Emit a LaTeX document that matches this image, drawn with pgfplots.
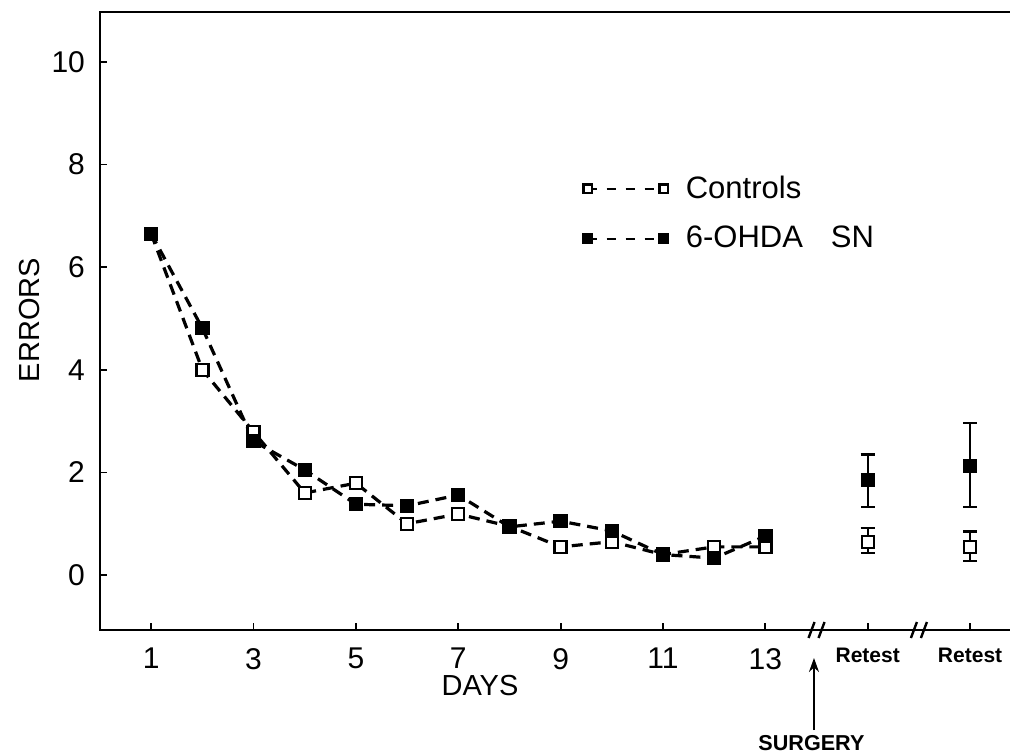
\documentclass[border=0pt]{standalone}
\usepackage{pgfplots}
\pgfplotsset{compat=1.18}
\usepackage{fontspec}
\setmainfont{Liberation Sans}
\usetikzlibrary{arrows.meta}

\begin{document}
\begin{tikzpicture}
\useasboundingbox (-50pt,-62.5pt) rectangle (455pt,315pt);
\begin{axis}[
    at={(0,0)}, anchor=south west,
    scale only axis, width=455pt, height=309pt,
    xmin=0, xmax=17.78, ymin=-1.07, ymax=10.97,
    clip=false,
    axis line style={draw=none},
    xtick={1,3,5,7,9,11,13,15,17},
    xticklabels={1,3,5,7,9,11,13,
      {\fontsize{10.5}{12}\selectfont\bfseries Retest},
      {\fontsize{10.5}{12}\selectfont\bfseries Retest}},
    ytick={0,2,4,6,8,10},
    xtick pos=bottom, ytick pos=left,
    tick align=inside,
    major tick length=3.5pt,
    every tick/.style={black, line width=0.9pt},
    tick label style={font=\fontsize{15}{18}\selectfont},
    xticklabel style={yshift=-5.5pt},
    yticklabel style={xshift=-4pt},
    /pgf/number format/assume math mode=true,
    xlabel={DAYS},
    xlabel style={at={(axis description cs:0.4176,0)}, anchor=center, yshift=-28pt, font=\fontsize{14.5}{17}\selectfont},
    ylabel={ERRORS},
    ylabel style={at={(axis description cs:0,0.5016)}, anchor=center, yshift=35pt, font=\fontsize{14.5}{17}\selectfont},
    legend style={draw=none, fill=none, at={(axis description cs:0.5308,0.742)}, anchor=north west,
      inner sep=0pt, row sep=8.5pt, font=\fontsize{15.5}{18}\selectfont,
      /tikz/every odd column/.append style={column sep=7pt}},
    legend cell align=left,
    legend image code/.code={\draw[#1, mark repeat=1] plot coordinates {(0pt,0pt) (38pt,0pt)};},
    legend image post style={mark size=2.1pt, dash pattern=on 4.5pt off 5pt, line width=1pt},
]
\addplot[black, line width=1.6pt, dash pattern=on 5.5pt off 3.5pt,
    mark=square*, mark size=3pt, mark options={solid, line width=1.2pt, fill=white}] coordinates {
(1,6.65)(2,4.0)(3,2.79)(4,1.6)(5,1.79)(6,1.0)(7,1.19)(8,0.95)(9,0.55)(10,0.65)(11,0.4)(12,0.55)(13,0.55)};
\addlegendentry{Controls}
\addplot[black, line width=1.6pt, dash pattern=on 5.5pt off 3.5pt,
    mark=square*, mark size=3pt, mark options={solid, line width=1.2pt, fill=black}] coordinates {
(1,6.65)(2,4.81)(3,2.61)(4,2.05)(5,1.38)(6,1.35)(7,1.56)(8,0.94)(9,1.05)(10,0.86)(11,0.4)(12,0.33)(13,0.76)};
\addlegendentry{6-OHDA\hspace{0.9em}SN}

\addplot[black, only marks, mark=square*, mark size=3pt, mark options={solid, line width=1.2pt, fill=white}, forget plot,
    error bars/.cd, y dir=both, y explicit,
    error bar style={line width=1pt}, error mark options={rotate=90, mark size=3.5pt, line width=1.2pt}]
coordinates {
(15,0.65) += (0,0.27) -= (0,0.22)
(17,0.55) += (0,0.30) -= (0,0.28)};
\addplot[black, only marks, mark=square*, mark size=3pt, mark options={solid, line width=1.2pt, fill=black}, forget plot,
    error bars/.cd, y dir=both, y explicit,
    error bar style={line width=1pt}, error mark options={rotate=90, mark size=3.5pt, line width=1.2pt}]
coordinates {
(15,1.85) += (0,0.50) -= (0,0.52)
(17,2.12) += (0,0.84) -= (0,0.79)};

% frame: left, top, bottom (right edge is cut off)
\draw[line width=1.4pt] (rel axis cs:1,1) -- (rel axis cs:0,1) -- (rel axis cs:0,0) -- (rel axis cs:1,0);

% axis breaks
\draw[line width=1.2pt] ([xshift=-4pt,yshift=-4pt]axis cs:14,-1.07) -- ([xshift=-1pt,yshift=4pt]axis cs:14,-1.07);
\draw[line width=1.2pt] ([xshift=1pt,yshift=-4pt]axis cs:14,-1.07) -- ([xshift=4pt,yshift=4pt]axis cs:14,-1.07);
\draw[line width=1.2pt] ([xshift=-4pt,yshift=-4pt]axis cs:16,-1.07) -- ([xshift=-1pt,yshift=4pt]axis cs:16,-1.07);
\draw[line width=1.2pt] ([xshift=1pt,yshift=-4pt]axis cs:16,-1.07) -- ([xshift=4pt,yshift=4pt]axis cs:16,-1.07);

% surgery marker
\draw[line width=1pt, -{Stealth[length=7pt,width=5pt]}] ([yshift=-50pt]axis cs:13.95,-1.07) -- ([yshift=-14pt]axis cs:13.95,-1.07);
\node[font=\fontsize{10.8}{12}\selectfont\bfseries] at ([yshift=-56.5pt]axis cs:13.9,-1.07) {SURGERY};
\end{axis}
\end{tikzpicture}
\end{document}
